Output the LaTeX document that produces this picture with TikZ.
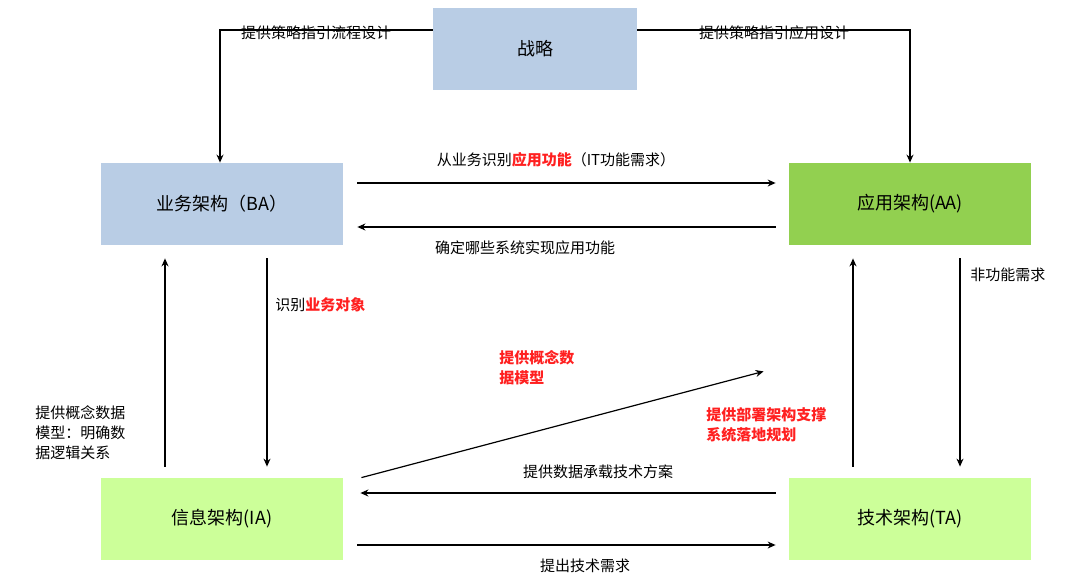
\documentclass[tikz,border=0pt]{standalone}
\usepackage{fontspec}
\setmainfont{Noto Sans CJK SC}
\usetikzlibrary{arrows.meta}
\definecolor{boxblue}{HTML}{B9CDE5}
\definecolor{boxgreen}{HTML}{92D050}
\definecolor{boxlight}{HTML}{CCFF99}
\definecolor{hlred}{HTML}{FF2020}
\newcommand{\hl}[1]{\textcolor{hlred}{\textbf{#1}}}
\tikzset{
  box/.style={minimum width=121pt, minimum height=41pt, inner sep=0pt, font=\fontsize{9}{11}\selectfont},
  lbl/.style={font=\fontsize{7.5}{10}\selectfont, inner sep=1pt},
  conn/.style={-{Stealth[length=4pt,width=3.5pt]}, line width=0.6pt}
}
\begin{document}
\begin{tikzpicture}[x=0.5pt, y=-0.5pt]
        \useasboundingbox (0,0) rectangle (1080,583);
        % boxes
        \node[box, fill=boxblue, minimum width=102pt] (ST) at (535,49) {战略};
        \node[box, fill=boxblue] (BA) at (222,204) {业务架构（BA）};
        \node[box, fill=boxgreen] (AA) at (910,204) {应用架构(AA)};
        \node[box, fill=boxlight] (IA) at (222,519) {信息架构(IA)};
        \node[box, fill=boxlight] (TA) at (910,519) {技术架构(TA)};
        % strategy links
        \draw[conn] ([yshift=9.5pt]ST.west) -| ([xshift=-1pt]BA.north);
        \draw[conn] ([yshift=9.5pt]ST.east) -| (AA.north);
        \node[lbl] at (316,33) {提供策略指引流程设计};
        \node[lbl] at (774,33) {提供策略指引应用设计};
        % BA <-> AA
        \draw[conn] ([xshift=7pt,yshift=10.5pt]BA.east) -- ([xshift=-6.5pt,yshift=10.5pt]AA.west);
        \draw[conn] ([xshift=-6.5pt,yshift=-11.5pt]AA.west) -- ([xshift=7pt,yshift=-11.5pt]BA.east);
        \node[lbl] at (556,160) {从业务识别\hl{应用功能}（IT功能需求）};
        \node[lbl] at (525,248) {确定哪些系统实现应用功能};
        % BA <-> IA
        \draw[conn] ([xshift=22.5pt,yshift=-6.5pt]BA.south) -- ([xshift=22.5pt,yshift=5.5pt]IA.north);
        \draw[conn] ([xshift=-28.5pt,yshift=5.5pt]IA.north) -- ([xshift=-28.5pt,yshift=-6.5pt]BA.south);
        \node[lbl, anchor=west] at (273,305) {识别\hl{业务对象}};
        \node[lbl, anchor=west, align=left] at (33,433) {提供概念数据\\模型：明确数\\据逻辑关系};
        % IA -> AA
        \draw[conn] ([xshift=9pt]IA.north east) -- ([xshift=-12.5pt,yshift=-63pt]AA.south west);
        \node[lbl, anchor=west, align=left] at (497,368) {\hl{提供概念数}\\\hl{据模型}};
        % AA <-> TA
        \draw[conn] ([xshift=-28.5pt,yshift=5.5pt]TA.north) -- ([xshift=-28.5pt,yshift=-6.5pt]AA.south);
        \draw[conn] ([xshift=25pt,yshift=-6.5pt]AA.south) -- ([xshift=25pt,yshift=5.5pt]TA.north);
        \node[lbl, anchor=west] at (968,275) {非功能需求};
        \node[lbl, anchor=west, align=left] at (704,425) {\hl{提供部署架构支撑}\\\hl{系统落地规划}};
        % TA <-> IA
        \draw[conn] ([xshift=-6.5pt,yshift=13pt]TA.west) -- ([xshift=8.5pt,yshift=13pt]IA.east);
        \draw[conn] ([xshift=7pt,yshift=-13pt]IA.east) -- ([xshift=-6.5pt,yshift=-13pt]TA.west);
        \node[lbl] at (598,472) {提供数据承载技术方案};
        \node[lbl] at (585,566) {提出技术需求};
\end{tikzpicture}
\end{document}
